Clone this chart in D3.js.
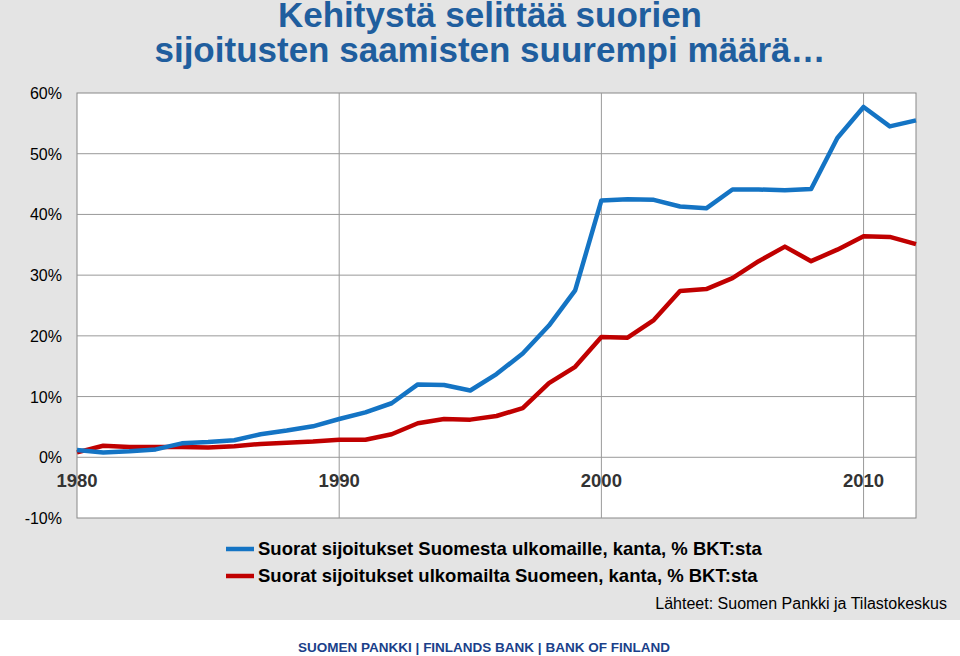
<!DOCTYPE html>
<html><head><meta charset="utf-8">
<script src="https://cdn.jsdelivr.net/npm/d3@7"></script>
<style>body{margin:0;background:#fff}svg{display:block}</style>
</head><body>
<svg id="chart" width="960" height="656"></svg>
<script>
const years = d3.range(1980, 2013)
const outward = [1.2,0.8,1.0,1.3,2.3,2.5,2.8,3.8,4.4,5.1,6.3,7.4,8.9,12.0,11.9,11.0,13.7,17.1,21.7,27.5,42.3,42.5,42.4,41.3,41.0,44.1,44.1,44.0,44.2,52.6,57.7,54.5,55.5]
const inward = [0.8,1.9,1.7,1.7,1.7,1.6,1.8,2.2,2.4,2.6,2.9,2.9,3.8,5.6,6.3,6.2,6.8,8.1,12.2,14.9,19.8,19.7,22.6,27.4,27.7,29.5,32.3,34.7,32.3,34.2,36.4,36.3,35.1]
const yTicks = [-10,0,10,20,30,40,50,60]
const xTicks = [1980,1990,2000,2010]
const seriesNames = ['Suorat sijoitukset Suomesta ulkomaille, kanta, % BKT:sta','Suorat sijoitukset ulkomailta Suomeen, kanta, % BKT:sta']
const colors = ['#1474c4','#c00000']
const font = 'Liberation Sans, Arial'

const svg = d3.select('#chart')
svg.append('rect').attr('width',960).attr('height',620).attr('fill','#e4e4e4')
const x = d3.scaleLinear().domain([1980,2012]).range([77,916])
const y = d3.scaleLinear().domain([-10,60]).range([518,93])

svg.append('rect').attr('x',77).attr('y',93).attr('width',839).attr('height',425)
  .attr('fill','#fff').attr('stroke','#888')
svg.append('g').selectAll('line').data(yTicks.slice(1,-1)).join('line')
  .attr('x1',77).attr('x2',916).attr('y1',d=>y(d)).attr('y2',d=>y(d)).attr('stroke','#999')
svg.append('g').selectAll('line').data(xTicks.slice(1)).join('line')
  .attr('x1',d=>x(d)).attr('x2',d=>x(d)).attr('y1',93).attr('y2',518).attr('stroke','#999')

svg.append('g').selectAll('text').data(yTicks).join('text')
  .attr('x',62).attr('y',d=>y(d)+6).attr('text-anchor','end')
  .attr('font-family',font).attr('font-size',16).text(d=>d+'%')
svg.append('g').selectAll('text').data(xTicks).join('text')
  .attr('x',d=>x(d)).attr('y',487).attr('text-anchor','middle').attr('fill','#333')
  .attr('font-family',font).attr('font-size',18.5).attr('font-weight','bold').text(d=>d)

const line = d3.line().x((d,i)=>x(years[i])).y(d=>y(d))
;[inward,outward].forEach((s,k)=>{
  svg.append('path').attr('d',line(s)).attr('fill','none')
    .attr('stroke',colors[1-k]).attr('stroke-width',4.5).attr('stroke-linejoin','round')
})

seriesNames.forEach((n,i)=>{
  const yy = 549 + i*27
  svg.append('line').attr('x1',226).attr('x2',254).attr('y1',yy).attr('y2',yy)
    .attr('stroke',colors[i]).attr('stroke-width',4.5)
  svg.append('text').attr('x',258).attr('y',yy+6).attr('font-family',font)
    .attr('font-size',18.5).attr('font-weight','bold').text(n)
})
svg.append('text').attr('x',947).attr('y',609).attr('text-anchor','end')
  .attr('font-family',font).attr('font-size',16).text('Lähteet: Suomen Pankki ja Tilastokeskus')

const title = svg.append('text').attr('text-anchor','middle').attr('font-family',font)
  .attr('font-size',35).attr('font-weight','bold').attr('fill','#1f5e9e')
title.append('tspan').attr('x',490).attr('y',27).text('Kehitystä selittää suorien')
title.append('tspan').attr('x',490).attr('y',62).text('sijoitusten saamisten suurempi määrä…')

svg.append('text').attr('x',484).attr('y',652).attr('text-anchor','middle')
  .attr('font-family',font).attr('font-size',13.5).attr('font-weight','bold')
  .attr('fill','#1a3f8a').text('SUOMEN PANKKI | FINLANDS BANK | BANK OF FINLAND')
</script>
</body></html>
